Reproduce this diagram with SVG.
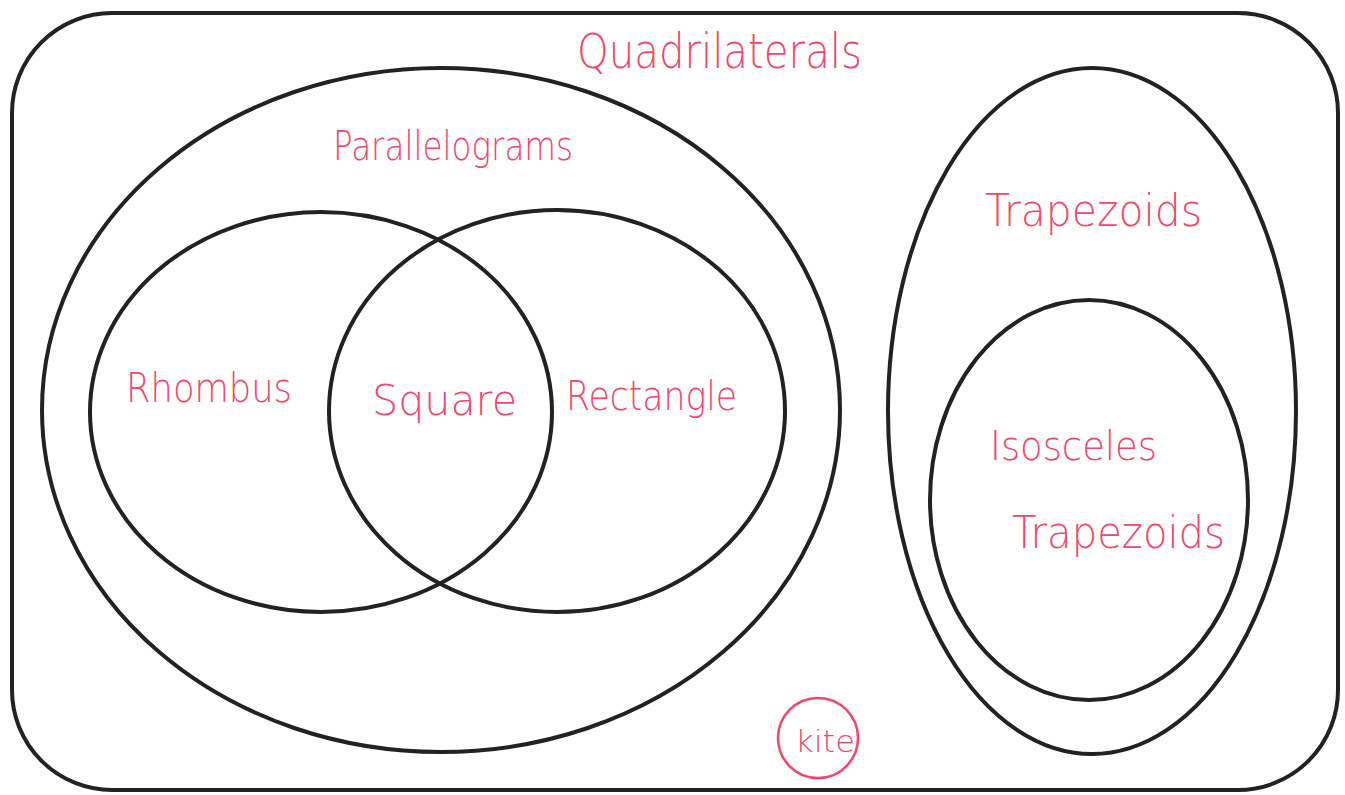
<svg xmlns="http://www.w3.org/2000/svg" width="1345" height="795" viewBox="0 0 1345 795">
<style>
.s{fill:none;stroke:#222;stroke-width:4}
.t{fill:#f2476a;font-family:"DejaVu Sans","Liberation Sans",sans-serif;font-weight:200;lengthAdjust:spacingAndGlyphs}
</style>
<rect width="1345" height="795" fill="#fff"/>
<g id="quadrilaterals"><rect class="s" x="12" y="13" width="1326" height="777" rx="100" ry="100"/>
<text class="t" x="577" y="68" font-size="48" textLength="285" lengthAdjust="spacingAndGlyphs">Quadrilaterals</text></g>
<g id="parallelograms"><ellipse class="s" cx="441" cy="410" rx="399" ry="342"/>
<text class="t" x="333" y="160" font-size="40" textLength="240" lengthAdjust="spacingAndGlyphs">Parallelograms</text></g>
<g id="rhombus"><ellipse class="s" cx="321" cy="412" rx="231" ry="200"/>
<text class="t" x="126" y="402" font-size="40" textLength="166" lengthAdjust="spacingAndGlyphs">Rhombus</text></g>
<g id="rectangle"><ellipse class="s" cx="557" cy="411" rx="228" ry="201"/>
<text class="t" x="566" y="410" font-size="40" textLength="171" lengthAdjust="spacingAndGlyphs">Rectangle</text></g>
<g id="square"><text class="t" x="372" y="415" font-size="42" textLength="145" lengthAdjust="spacingAndGlyphs">Square</text></g>
<g id="trapezoids"><ellipse class="s" cx="1092" cy="411" rx="204" ry="343"/>
<text class="t" x="985" y="226" font-size="44" textLength="217" lengthAdjust="spacingAndGlyphs">Trapezoids</text></g>
<g id="isosceles"><ellipse class="s" cx="1089" cy="500" rx="159" ry="200"/>
<text class="t" x="990" y="460" font-size="40" textLength="167" lengthAdjust="spacingAndGlyphs">Isosceles</text>
<text class="t" x="1012" y="548" font-size="44" textLength="213" lengthAdjust="spacingAndGlyphs">Trapezoids</text></g>
<g id="kite"><circle cx="818" cy="738" r="40" fill="none" stroke="#f2476a" stroke-width="2.5"/>
<text class="t" x="795" y="752" font-size="30" textLength="60" lengthAdjust="spacingAndGlyphs">kite</text></g>
<g id="connectors"></g>
</svg>
